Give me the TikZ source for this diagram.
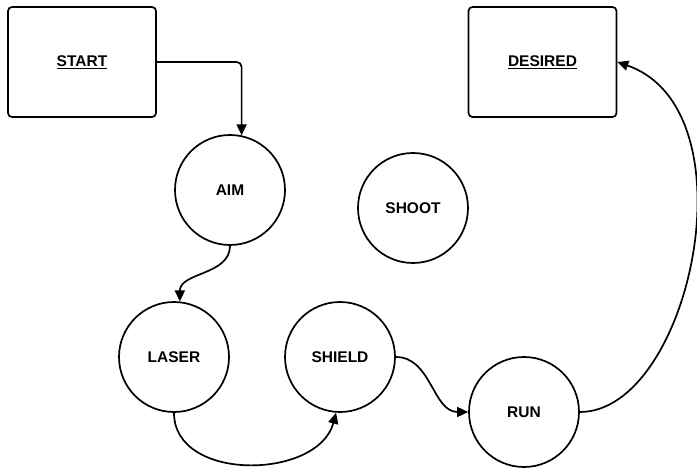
\documentclass[tikz,border=0pt]{standalone}
\usepackage{fontspec}
\setmainfont{Liberation Sans}
\usetikzlibrary{arrows.meta}
\begin{document}
\begin{tikzpicture}[x=1pt,y=-1pt,
  every node/.style={font=\fontsize{15.5}{17}\selectfont\bfseries},
  statebox/.style={draw, line width=1.7pt, rounded corners=4pt, minimum width=148pt, minimum height=110pt, inner sep=0pt},
  statecirc/.style={draw, circle, line width=1.7pt, minimum size=110pt, inner sep=0pt},
  conn/.style={line width=1.7pt, -{Triangle[length=11pt,width=10pt]}}]
\useasboundingbox (0,0) rectangle (697,468);
\node[statebox] (start) at (82,62) {\underline{START}};
\node[statebox] (desired) at (542.5,62) {\underline{DESIRED}};
\node[statecirc] (aim) at (230,190) {AIM};
\node[statecirc] (shoot) at (413,208) {SHOOT};
\node[statecirc] (laser) at (174,357) {LASER};
\node[statecirc] (shield) at (340,357) {SHIELD};
\node[statecirc] (run) at (524,412) {RUN};
\draw[conn, rounded corners=5pt] (start.east) -| (aim.78);
\draw[conn] (aim.south) to[out=-90,in=90] (laser.84);
\draw[conn] (laser.south) to[out=-90,in=-105,looseness=1.1] (shield.-94);
\draw[conn] (shield.east) to[out=0,in=180] (run.west);
\draw[conn] (run.east) .. controls (690,412) and (755,110) .. (desired.east);
\end{tikzpicture}
\end{document}
